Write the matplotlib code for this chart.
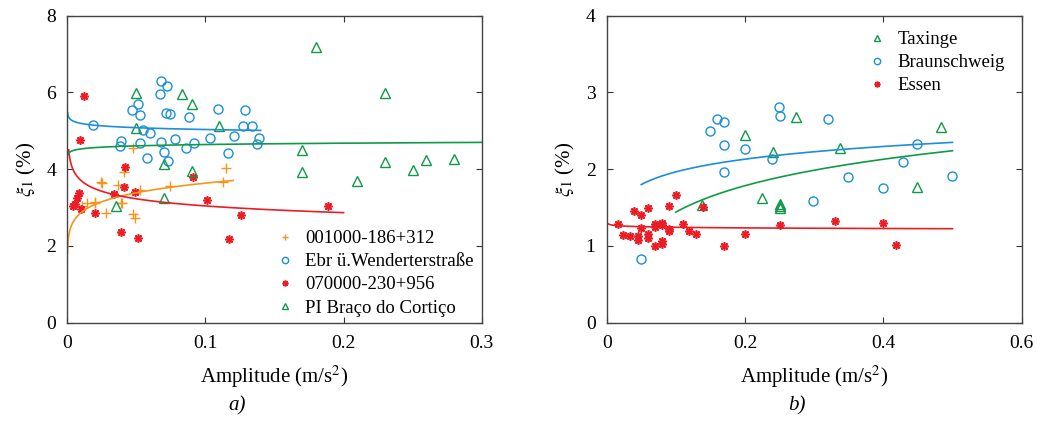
import numpy as np
import matplotlib
matplotlib.use('Agg')
import matplotlib.pyplot as plt

plt.rcParams['font.family'] = ['Liberation Serif', 'DejaVu Serif']
plt.rcParams['mathtext.fontset'] = 'stix'

ORANGE = '#F7941D'
BLUE = '#1B8FD8'
RED = '#EC1C24'
GREEN = '#109A48'

# ---- panel a) data ----
a_orange_x = [0.0478, 0.0408, 0.115, 0.0246, 0.0367, 0.0529, 0.0741, 0.113, 0.0393,
              0.0198, 0.0106, 0.0145, 0.020, 0.028, 0.0478, 0.0493, 0.0254, 0.039]
a_orange_y = [4.56, 3.93, 4.03, 3.66, 3.58, 3.46, 3.57, 3.67, 3.13,
              3.14, 3.05, 3.11, 3.13, 2.85, 2.84, 2.72, 3.63, 3.11]

a_blue_x = [0.0188, 0.0678, 0.0719, 0.0669, 0.0509, 0.0468, 0.0529, 0.0714, 0.0741, 0.0879,
            0.109, 0.129, 0.127, 0.134, 0.055, 0.0599, 0.0391, 0.0379, 0.0529, 0.0678,
            0.078, 0.092, 0.103, 0.121, 0.139, 0.137, 0.0857, 0.070, 0.0579, 0.0729, 0.116]
a_blue_y = [5.14, 6.30, 6.17, 5.97, 5.69, 5.54, 5.40, 5.46, 5.44, 5.37,
            5.57, 5.53, 5.12, 5.12, 5.03, 4.95, 4.73, 4.60, 4.67, 4.72,
            4.78, 4.69, 4.80, 4.87, 4.80, 4.65, 4.55, 4.46, 4.29, 4.21, 4.42]

a_red_x = [0.0118, 0.0089, 0.042, 0.091, 0.041, 0.049, 0.0338, 0.0085, 0.0073, 0.0053,
           0.0044, 0.0097, 0.020, 0.101, 0.189, 0.126, 0.0389, 0.0509, 0.117]
a_red_y = [5.90, 4.76, 4.05, 3.80, 3.54, 3.41, 3.35, 3.37, 3.24, 3.09,
           3.04, 2.95, 2.86, 3.19, 3.05, 2.80, 2.36, 2.22, 2.17]

a_green_x = [0.180, 0.050, 0.083, 0.090, 0.230, 0.050, 0.110, 0.170, 0.170, 0.070,
             0.090, 0.230, 0.260, 0.280, 0.250, 0.210, 0.070, 0.035]
a_green_y = [7.19, 5.99, 5.97, 5.71, 5.99, 5.07, 5.13, 4.51, 3.94, 4.14,
             3.96, 4.18, 4.24, 4.27, 3.98, 3.68, 3.26, 3.04]

# fitted curves: (kind, a, b, x_start, x_end)
a_orange_fit = ('pow', 4.61, 0.103, 0.0001, 0.12)
a_blue_fit = ('pow', 4.88, -0.0135, 0.0002, 0.14)
a_red_fit = ('pow', 2.50, -0.0853, 0.001, 0.2)
a_green_fit = ('pow', 4.76, 0.0108, 0.0005, 0.3)

# ---- panel b) data ----
b_green_x = [0.274, 0.2005, 0.240, 0.338, 0.484, 0.449, 0.224, 0.138, 0.25, 0.25, 0.25]
b_green_y = [2.68, 2.44, 2.23, 2.27, 2.55, 1.77, 1.63, 1.54, 1.55, 1.52, 1.50]

b_blue_x = [0.2496, 0.25, 0.1595, 0.170, 0.149, 0.3195, 0.170, 0.1995, 0.2395,
            0.170, 0.449, 0.429, 0.349, 0.499, 0.399, 0.299, 0.050]
b_blue_y = [2.81, 2.69, 2.65, 2.61, 2.50, 2.65, 2.32, 2.26, 2.13,
            1.96, 2.33, 2.10, 1.90, 1.91, 1.76, 1.58, 0.83]

b_red_x = [0.0998, 0.0896, 0.0598, 0.040, 0.050, 0.1398, 0.0169, 0.050, 0.070, 0.070,
           0.080, 0.080, 0.0896, 0.0896, 0.110, 0.1186, 0.1287, 0.024, 0.034, 0.0448,
           0.0448, 0.0598, 0.0598, 0.080, 0.080, 0.070, 0.170, 0.1995, 0.25, 0.330,
           0.399, 0.419]
b_red_y = [1.66, 1.52, 1.49, 1.46, 1.40, 1.51, 1.28, 1.24, 1.29, 1.25,
           1.30, 1.27, 1.22, 1.20, 1.29, 1.19, 1.15, 1.14, 1.13, 1.13,
           1.08, 1.16, 1.10, 1.07, 1.02, 1.00, 1.00, 1.15, 1.27, 1.33,
           1.30, 1.01]

b_green_fit = ('log', 2.585, 0.497, 0.1, 0.5)
b_blue_fit = ('log', 2.515, 0.2388, 0.05, 0.5)
b_red_fit = ('pow', 1.217, -0.0092, 0.001, 0.5)

a_labels = ['001000-186+312', 'Ebr ü.Wenderterstraße', '070000-230+956', 'PI Braço do Cortiço']
b_labels = ['Taxinge', 'Braunschweig', 'Essen']

ASTER = (8, 2, 0)


def fit_curve(fit):
    kind, a, b, x0, x1 = fit
    x = np.geomspace(x0, x1, 300)
    if kind == 'pow':
        y = a * x ** b
    else:
        y = a + b * np.log(x)
    return x, y


def style_axes(ax, xlim, xticks, ylim, yticks, xticklabels):
    ax.set_xlim(*xlim)
    ax.set_ylim(*ylim)
    ax.set_xticks(xticks)
    ax.set_xticklabels(xticklabels)
    ax.set_yticks(yticks)
    ax.tick_params(direction='in', top=True, right=True, length=4, width=0.8,
                   labelsize=14, colors='#333333', labelcolor='black')
    ax.tick_params(axis='x', pad=9)
    ax.tick_params(axis='y', pad=8)
    for s in ax.spines.values():
        s.set_color('#444444')
        s.set_linewidth(1.0)
    ax.set_xlabel('Amplitude (m/s$^2$)', fontsize=15, labelpad=8)
    ax.set_ylabel(r'$\xi_1$ (%)', fontsize=15, labelpad=6)


fig = plt.figure(figsize=(10.37, 4.23), dpi=100)
ax1 = fig.add_axes([0.0649, 0.2371, 0.3996, 0.7258])
ax2 = fig.add_axes([0.5850, 0.2371, 0.4002, 0.7258])

# panel a
ax1.plot(a_orange_x, a_orange_y, ls='none', marker='+', ms=7, mew=1.0, color=ORANGE, label=a_labels[0])
ax1.plot(a_blue_x, a_blue_y, ls='none', marker='o', ms=6.5, mew=1.0, mfc='none', color=BLUE, label=a_labels[1])
ax1.plot(a_red_x, a_red_y, ls='none', marker=ASTER, ms=6, mew=1.2, color=RED, label=a_labels[2])
ax1.plot(a_green_x, a_green_y, ls='none', marker='^', ms=6.5, mew=1.0, mfc='none', color=GREEN, label=a_labels[3])
for fit, c in [(a_orange_fit, ORANGE), (a_blue_fit, BLUE), (a_red_fit, RED), (a_green_fit, GREEN)]:
    fx, fy = fit_curve(fit)
    ax1.plot(fx, fy, color=c, lw=1.2)
style_axes(ax1, (0, 0.3), [0, 0.1, 0.2, 0.3], (0, 8), [0, 2, 4, 6, 8], ['0', '0.1', '0.2', '0.3'])
ax1.legend(loc='lower left', bbox_to_anchor=(0.497, 0.02), frameon=False, fontsize=13.5,
           markerscale=0.7, handlelength=1.2, handletextpad=0.5, labelspacing=0.32,
           borderaxespad=0, borderpad=0)

# panel b
ax2.plot(b_green_x, b_green_y, ls='none', marker='^', ms=6.5, mew=1.0, mfc='none', color=GREEN, label=b_labels[0])
ax2.plot(b_blue_x, b_blue_y, ls='none', marker='o', ms=6.5, mew=1.0, mfc='none', color=BLUE, label=b_labels[1])
ax2.plot(b_red_x, b_red_y, ls='none', marker=ASTER, ms=6, mew=1.2, color=RED, label=b_labels[2])
for fit, c in [(b_green_fit, GREEN), (b_blue_fit, BLUE), (b_red_fit, RED)]:
    fx, fy = fit_curve(fit)
    ax2.plot(fx, fy, color=c, lw=1.2)
style_axes(ax2, (0, 0.6), [0, 0.2, 0.4, 0.6], (0, 4), [0, 1, 2, 3, 4], ['0', '0.2', '0.4', '0.6'])
ax2.legend(loc='upper left', bbox_to_anchor=(0.625, 0.95), frameon=False, fontsize=13.5,
           markerscale=0.7, handlelength=1.2, handletextpad=0.5, labelspacing=0.32,
           borderaxespad=0, borderpad=0)

fig.text(0.229, 0.04, 'a)', fontsize=15, style='italic', ha='center', va='center')
fig.text(0.769, 0.04, 'b)', fontsize=15, style='italic', ha='center', va='center')

fig.savefig('out.png', dpi=100)
